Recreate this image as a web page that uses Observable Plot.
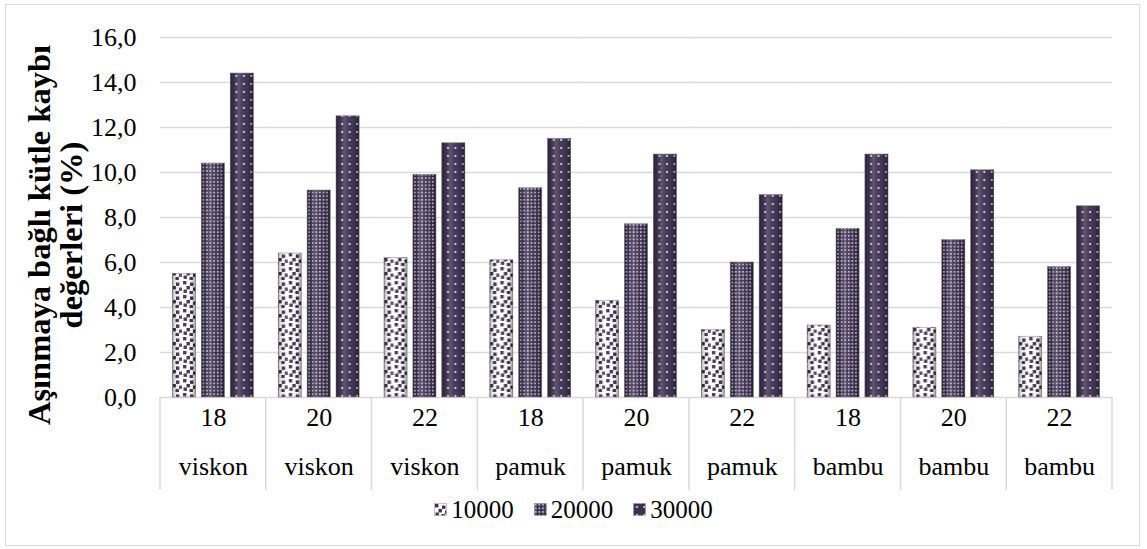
<!DOCTYPE html>
<html>
<head>
<meta charset="utf-8">
<script src="https://cdn.jsdelivr.net/npm/d3@7"></script>
<script src="https://cdn.jsdelivr.net/npm/@observablehq/plot@0.6"></script>
<style>
  html, body { margin: 0; padding: 0; background: #fff; }
  #wrap { position: relative; width: 1147px; height: 549px; overflow: hidden;
          font-family: "Liberation Serif", "Times New Roman", serif; color: #000; }
  #border { position: absolute; left: 5px; top: 4px; width: 1135px; height: 542px;
            border: 1.5px solid #d9d9d9; box-sizing: border-box; }
  #chart { position: absolute; left: 0; top: 0; }
  #chart svg, #chart svg text { font-family: "Liberation Serif", "Times New Roman", serif !important; }
  #ylabel { position: absolute; left: -184px; top: 202px; width: 480px; height: 66px;
            transform: rotate(-90deg); transform-origin: 50% 50%;
            text-align: center; font-weight: bold; font-size: 32.5px; line-height: 32px; white-space: nowrap; }
  #legend { position: absolute; left: 0; top: 494px; width: 1147px; text-align: center;
            font-size: 25px; line-height: 28px; }
  #legend .item { display: inline-flex; align-items: center; margin: 0 10px; }
  #legend svg { margin-right: 4px; }
</style>
</head>
<body>
<div id="wrap">
  <div id="border"></div>
  <div id="chart"></div>
  <div id="ylabel">Aşınmaya bağlı kütle kaybı<br>değerleri (%)</div>
  <div id="legend"></div>
</div>
<script>
// Mass loss from abrasion (%) by fibre type, yarn count and number of rubbing cycles
const fibers = ["viskon", "viskon", "viskon", "pamuk", "pamuk", "pamuk", "bambu", "bambu", "bambu"];
const counts = ["18", "20", "22", "18", "20", "22", "18", "20", "22"];
const series = ["10000", "20000", "30000"];
const v10000 = [5.5, 6.4, 6.2, 6.1, 4.3, 3.0, 3.2, 3.1, 2.7];
const v20000 = [10.4, 9.2, 9.9, 9.3, 7.7, 6.0, 7.5, 7.0, 5.8];
const v30000 = [14.4, 12.5, 11.3, 11.5, 10.8, 9.0, 10.8, 10.1, 8.5];
const yTicks = [0, 2, 4, 6, 8, 10, 12, 14, 16];

const keys = fibers.map((f, i) => `${f}-${counts[i]}`);
const bySeries = {"10000": v10000, "20000": v20000, "30000": v30000};
const rows = series.flatMap(s => keys.map((k, i) => ({key: k, series: s, value: bySeries[s][i]})));
const cats = keys.map((k, i) => ({key: k, fiber: fibers[i], count: counts[i]}));

const ink = "#3f3151";
const gridColor = "#d9d9d9";

const chart = Plot.plot({
  width: 1147,
  height: 496,
  marginTop: 37,
  marginBottom: 99,
  marginLeft: 160,
  marginRight: 35,
  style: {fontFamily: "Liberation Serif, serif", fontSize: "26px", background: "transparent", overflow: "visible", color: "#000"},
  fx: {domain: keys, paddingInner: 0, paddingOuter: 0, round: false, axis: null},
  x: {domain: series, paddingInner: 0.2, paddingOuter: 0.43, round: false, axis: null},
  y: {domain: [0, 16], ticks: yTicks, tickFormat: d => d.toFixed(1).replace(".", ","), tickSize: 0, tickPadding: 24, label: null},
  marks: [
    Plot.ruleY(yTicks, {stroke: gridColor, strokeWidth: 1.5}),
    ...series.map(s => Plot.barY(rows.filter(d => d.series === s), {
      fx: "key", x: "series", y: "value", fill: `url(#pat${s})`, stroke: "#8c8c8c", strokeWidth: 0.6
    })),
    Plot.barY(rows, {fx: "key", x: "series", y: "value", fill: "url(#shade)"}),
    Plot.text(cats, {fx: "key", text: "count", frameAnchor: "bottom", dy: 28}),
    Plot.text(cats, {fx: "key", text: "fiber", frameAnchor: "bottom", dy: 77})
  ]
});
document.getElementById("chart").appendChild(chart);

const svg = d3.select(chart);
const defs = svg.insert("defs", ":first-child");

// sparse squares on white
const p1 = defs.append("pattern").attr("id", "pat10000").attr("patternUnits", "userSpaceOnUse").attr("width", 14).attr("height", 14);
p1.append("rect").attr("width", 14).attr("height", 14).attr("fill", "#fff");
[[1, 1], [8, 2.5], [4.5, 6], [11, 7.5], [1.5, 9.5], [7.5, 11]].forEach(([x, y]) =>
  p1.append("rect").attr("x", x).attr("y", y).attr("width", 3.4).attr("height", 3.4).attr("fill", ink));

// dense small dots on purple
const p2 = defs.append("pattern").attr("id", "pat20000").attr("patternUnits", "userSpaceOnUse").attr("width", 3.6).attr("height", 3.6);
p2.append("rect").attr("width", 3.6).attr("height", 3.6).attr("fill", ink);
p2.append("rect").attr("x", 1).attr("y", 1).attr("width", 1.5).attr("height", 1.5).attr("fill", "#e8e4ef");

// sparse dots on purple
const p3 = defs.append("pattern").attr("id", "pat30000").attr("patternUnits", "userSpaceOnUse").attr("width", 7.5).attr("height", 8);
p3.append("rect").attr("width", 7.5).attr("height", 8).attr("fill", ink);
p3.append("rect").attr("x", 3).attr("y", 3).attr("width", 1.8).attr("height", 1.8).attr("fill", "#e8e4ef");

// cylinder-like shading across each bar
const g = defs.append("linearGradient").attr("id", "shade").attr("x1", 0).attr("x2", 1).attr("y1", 0).attr("y2", 0);
[[0, "#000", 0.35], [0.12, "#000", 0.08], [0.35, "#fff", 0.18], [0.55, "#fff", 0.05], [0.85, "#000", 0.08], [1, "#000", 0.4]]
  .forEach(([o, c, a]) => g.append("stop").attr("offset", o).attr("stop-color", c).attr("stop-opacity", a));

// category separators below the axis
const fx = chart.scale("fx");
const yScale = chart.scale("y");
const [r0, r1] = fx.range;
const step = (r1 - r0) / fx.domain.length;
const yBase = Math.max(...yScale.range);
svg.append("g")
  .selectAll("line")
  .data(d3.range(fx.domain.length + 1))
  .join("line")
  .attr("x1", i => r0 + i * step)
  .attr("x2", i => r0 + i * step)
  .attr("y1", yBase)
  .attr("y2", yBase + 93)
  .attr("stroke", gridColor)
  .attr("stroke-width", 1.5);

// legend
const legend = d3.select("#legend");
series.forEach(s => {
  const item = legend.append("span").attr("class", "item");
  const sw = item.append("svg").attr("width", 13).attr("height", 13);
  sw.append("rect").attr("x", 0.5).attr("y", 0.5).attr("width", 12).attr("height", 12)
    .attr("fill", `url(#pat${s})`).attr("stroke", "#9a9a9a").attr("stroke-width", 0.6);
  item.append("span").text(s);
});
</script>
</body>
</html>
